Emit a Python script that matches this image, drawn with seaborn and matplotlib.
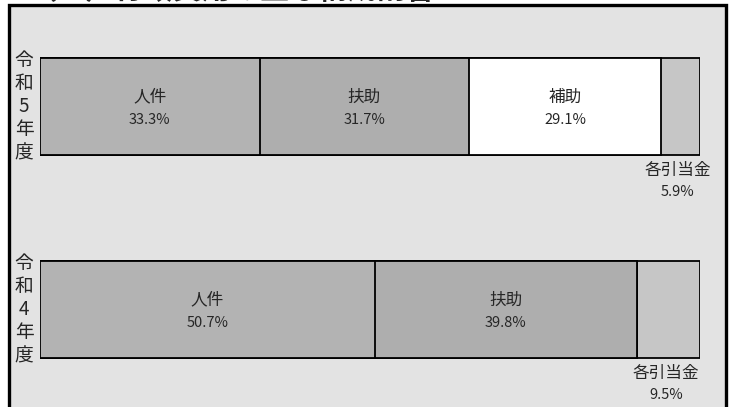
import pandas as pd
import matplotlib.pyplot as plt
import seaborn as sns
from matplotlib.patches import Rectangle

sns.set_theme(style='white')
plt.rcParams['font.family'] = ['Noto Sans CJK JP', 'DejaVu Sans']

title = '（２）行政費用の主な構成割合'
years = ['令和5年度', '令和4年度']
categories = ['人件', '扶助', '補助', '各引当金']
values_r5 = [33.3, 31.7, 29.1, 5.9]
values_r4 = [50.7, 39.8, 0.0, 9.5]
colors = ['#b3b3b3', '#aeaeae', '#ffffff', '#c6c6c6']

data = pd.DataFrame([values_r5, values_r4], columns=categories)
data['年度'] = years
cum = data[categories].cumsum(axis=1)

fig = plt.figure(figsize=(7.38, 4.07), dpi=100)
fig.patch.set_facecolor('white')

# frame around the chart
frame = Rectangle((8.5 / 738, -0.2), 717 / 738, 1.2 - 5 / 407,
                  transform=fig.transFigure, facecolor='#e3e3e3',
                  edgecolor='black', linewidth=2.4, zorder=-5)
fig.patches.append(frame)

# title is cropped at the top edge, as in the source image
fig.text(28 / 738, 1 - 4.5 / 407, title, ha='left', va='bottom',
         fontsize=21, fontweight='bold', zorder=5)

ax = fig.add_axes([40 / 738, 0.04, 660 / 738, 0.8978])
ax.patch.set_alpha(0)

# stacked bars: draw cumulative totals from longest to shortest
for cat, col in reversed(list(zip(categories, colors))):
    sns.barplot(x=cum[cat], y=data['年度'], color=col, saturation=1,
                edgecolor='black', linewidth=1.3, width=0.48, ax=ax)

ax.set_xlim(0, 100)
ax.set_ylim(1.4, -0.4)
ax.axis('off')

for i, year in enumerate(years):
    left = 0
    for cat in categories:
        v = data.loc[i, cat]
        if v > 0:
            mid = left + v / 2
            if v < 15:
                ax.text(mid - 0.4, i + 0.313, cat, ha='center', va='center', fontsize=12)
                ax.text(mid - 0.4, i + 0.421, f'{v}%', ha='center', va='center', fontsize=10.5)
            else:
                ax.text(mid, i - 0.047, cat, ha='center', va='center', fontsize=12)
                ax.text(mid, i + 0.066, f'{v}%', ha='center', va='center', fontsize=10.5)
        left += v
    ax.text(-2.4, i, '\n'.join(year), ha='center', va='center',
            fontsize=13.5, linespacing=1.13)

fig.savefig('out.png', dpi=100)
